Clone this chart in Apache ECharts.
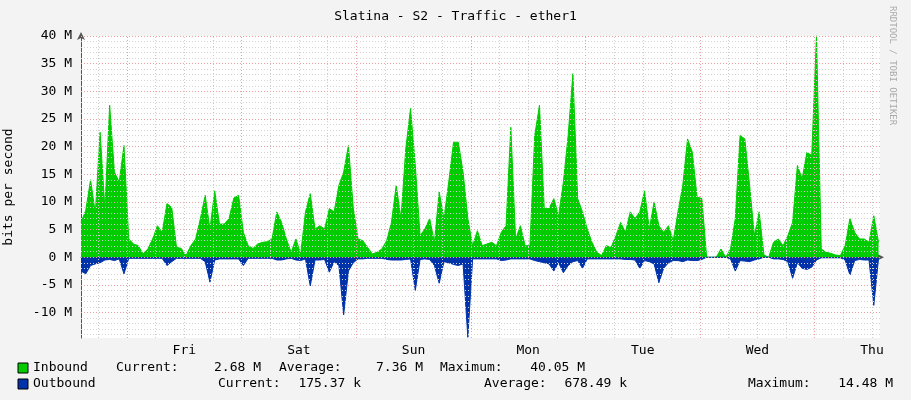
<!DOCTYPE html>
<html><head><meta charset="utf-8">
<script src="https://cdn.jsdelivr.net/npm/echarts@6/dist/echarts.min.js"></script>
<style>html,body{margin:0;padding:0;background:#f3f3f3}#c{width:911px;height:400px}</style>
</head><body><div id="c"></div>
<script>
// hourly samples, Mbit/s, hour 0 = left edge of plot
const inbound = [6.3,8.5,14,8,22.6,8.8,27.5,15.4,13.6,20.2,3.3,2.4,2.1,0.6,1.5,3.3,5.7,4.5,9.7,9,1.8,1.6,0.3,2.1,
3.3,7,11.2,5.1,12,6,6,7,10.7,11.2,4.5,2.1,1.6,2.4,2.7,2.8,3.3,8.2,6.3,3.3,0.9,3.3,0.6,8.2,
11.5,5.1,5.7,5.1,8.8,8.2,13,15.4,20.2,9,3.3,3,1.8,0.6,0.9,1.5,3,6.3,13,7,19.6,26.9,16.6,3.9,
5.1,7,2.7,11.8,7,13.6,20.8,20.8,15.4,7,2.1,4.8,2.1,2.4,2.7,2.1,4.5,5.7,23.5,3.3,5.7,2.1,2.1,22,
27.5,8.8,8.8,10.6,7.5,13.6,22,33.2,10.6,8.2,5.1,2.7,0.9,0.3,2.1,1.8,3.9,6.3,4.5,8.2,7,8.2,12,5.1,
10,5.7,4.5,5.7,3,8.2,13,21.4,19,10.9,10.6,0,0,0,1.5,0,1.5,7,22,21.4,13,3.9,8.2,0.4,
0,2.7,3.3,2.1,3.9,6.3,16.6,14.2,19,18.4,40.05,1.5,0.9,0.7,0.4,0.3,2.1,7,4.5,3.3,3.3,2.7,7.5,2.68];
const outbound = [-2.5,-3,-1.5,-1.2,-1,-0.5,-0.4,-0.6,-0.3,-3,-0.2,-0.2,-0.2,-0.2,-0.2,-0.2,-0.2,-0.2,-1.5,-0.8,-0.2,-0.2,-0.2,-0.2,
-0.2,-0.2,-0.8,-4.5,-0.5,-0.3,-0.3,-0.3,-0.3,-0.3,-1.5,-0.2,-0.2,-0.2,-0.2,-0.2,-0.2,-0.5,-0.5,-0.3,-0.2,-0.5,-0.6,-0.3,
-5.2,-0.5,-0.5,-0.4,-2.7,-0.8,-1.5,-10.4,-2.5,-1,-0.3,-0.3,-0.2,-0.2,-0.2,-0.2,-0.4,-0.5,-0.5,-0.5,-0.4,-0.3,-6,-0.4,
-0.3,-0.4,-1.5,-4.7,-0.8,-1,-1.3,-1.5,-1.2,-14.48,-0.3,-0.3,-0.3,-0.3,-0.3,-0.3,-0.6,-0.5,-0.3,-0.3,-0.3,-0.3,-0.3,-0.6,
-0.8,-1,-1.2,-2.5,-1,-2.8,-1.5,-0.8,-0.6,-2,-0.3,-0.3,-0.3,-0.3,-0.3,-0.3,-0.3,-0.3,-0.4,-0.4,-0.5,-2,-0.6,-0.8,
-1.2,-4.6,-2,-1,-0.6,-0.6,-0.8,-0.5,-0.6,-0.6,-0.4,0,0,0,0,0,-0.3,-2.5,-0.6,-0.7,-0.8,-0.5,-0.3,0,
0,-0.3,-0.3,-0.4,-0.8,-3.8,-1,-2,-2.2,-1.8,-0.5,-0.1,-0.1,-0.1,-0.1,-0.1,-0.5,-3.2,-0.6,-0.4,-0.5,-0.5,-8.7,-0.18];
const days = ['Fri','Sat','Sun','Mon','Tue','Wed','Thu'];
const yTicks = [-10,-5,0,5,10,15,20,25,30,35,40];
const firstMidnight = 9.63; // hour of first day boundary

const X_MAX = 167.3, Y_MIN = -14.6, Y_MAX = 40;
const inData = inbound.map((v,i)=>[i,v]);
const outData = outbound.map((v,i)=>[i,v]);
const noon = days.map((d,i)=>firstMidnight+12+24*i);
const vlines=[];
for(let h=firstMidnight-6;h<X_MAX;h+=6){ if(h<0.5)continue;
  const major=Math.abs(((h-firstMidnight)%24))<0.01;
  vlines.push({xAxis:h,lineStyle:{color:major?'#e8a0a0':'#cccccc',type:[1,2],width:1}});
}
for(let v=-14;v<=40;v++){
  vlines.push({yAxis:v,lineStyle:{color:v%5===0?'#e8a0a0':'#d4d4d4',type:[1,2],width:1}});
}
const mono='DejaVu Sans Mono';
const F='13px "DejaVu Sans Mono"';
const t=(x,y,s,align)=>({type:'text',x:x,y:y,style:{text:s,font:F,fill:'#000',align:align||'left',verticalAlign:'middle'}});
const chart=echarts.init(document.getElementById('c'));
chart.setOption({
  backgroundColor:'#f3f3f3',animation:false,
  title:{text:'Slatina - S2 - Traffic - ether1',left:'center',top:5,textStyle:{fontFamily:mono,fontSize:13,fontWeight:'normal',color:'#000'}},
  grid:{left:81,right:31,top:36,bottom:62,show:true,backgroundColor:'#fff',borderWidth:0,containLabel:false,outerBoundsMode:'none'},
  xAxis:{type:'value',min:0,max:X_MAX,splitLine:{show:false},
    axisLine:{lineStyle:{color:'#555'},symbol:['none','arrow'],symbolSize:[6,8],symbolOffset:[0,4]},
    axisTick:{show:false},
    axisLabel:{customValues:noon,formatter:v=>days[Math.round((v-firstMidnight-12)/24)],fontFamily:mono,fontSize:13,color:'#000',margin:6}},
  yAxis:{type:'value',min:Y_MIN,max:Y_MAX,splitLine:{show:false},name:'bits per second',nameLocation:'middle',nameGap:66,nameRotate:90,
    nameTextStyle:{fontFamily:mono,fontSize:13,color:'#000'},
    axisLine:{show:true,lineStyle:{color:'#555'},symbol:['none','arrow'],symbolSize:[6,8],symbolOffset:[0,4]},
    axisTick:{show:false},
    axisLabel:{customValues:yTicks,formatter:v=>v+' M',fontFamily:mono,fontSize:13,color:'#000',margin:9}},
  series:[
    {type:'line',data:[],z:1,silent:true,markLine:{silent:true,symbol:'none',label:{show:false},animation:false,data:vlines}},
    {type:'line',name:'Inbound',data:inData,symbol:'none',z:3,lineStyle:{width:1,color:'#00cc00'},areaStyle:{color:'#00cc00',opacity:1}},
    {type:'line',name:'Outbound',data:outData,symbol:'none',z:3,lineStyle:{width:1,color:'#0033aa'},areaStyle:{color:'#0033aa',opacity:1}}
  ],
  graphic:[
    {type:'rect',x:18,y:363,shape:{width:10,height:10},style:{fill:'#00cc00',stroke:'#000',lineWidth:1}},
    {type:'rect',x:18,y:379,shape:{width:10,height:10},style:{fill:'#0033aa',stroke:'#000',lineWidth:1}},
    t(33,368,'Inbound'),t(116,368,'Current:'),t(261,368,'2.68 M','right'),t(279,368,'Average:'),t(423,368,'7.36 M','right'),
    t(440,368,'Maximum:'),t(585,368,'40.05 M','right'),
    t(33,384,'Outbound'),t(218,384,'Current:'),t(361,384,'175.37 k','right'),t(484,384,'Average:'),t(627,384,'678.49 k','right'),
    t(748,384,'Maximum:'),t(893,384,'14.48 M','right'),
    {type:'text',x:897,y:6,rotation:-Math.PI/2,style:{text:'RRDTOOL / TOBI OETIKER',font:'9px "DejaVu Sans Mono"',fill:'#aaa'}}
  ]
});
</script></body></html>
